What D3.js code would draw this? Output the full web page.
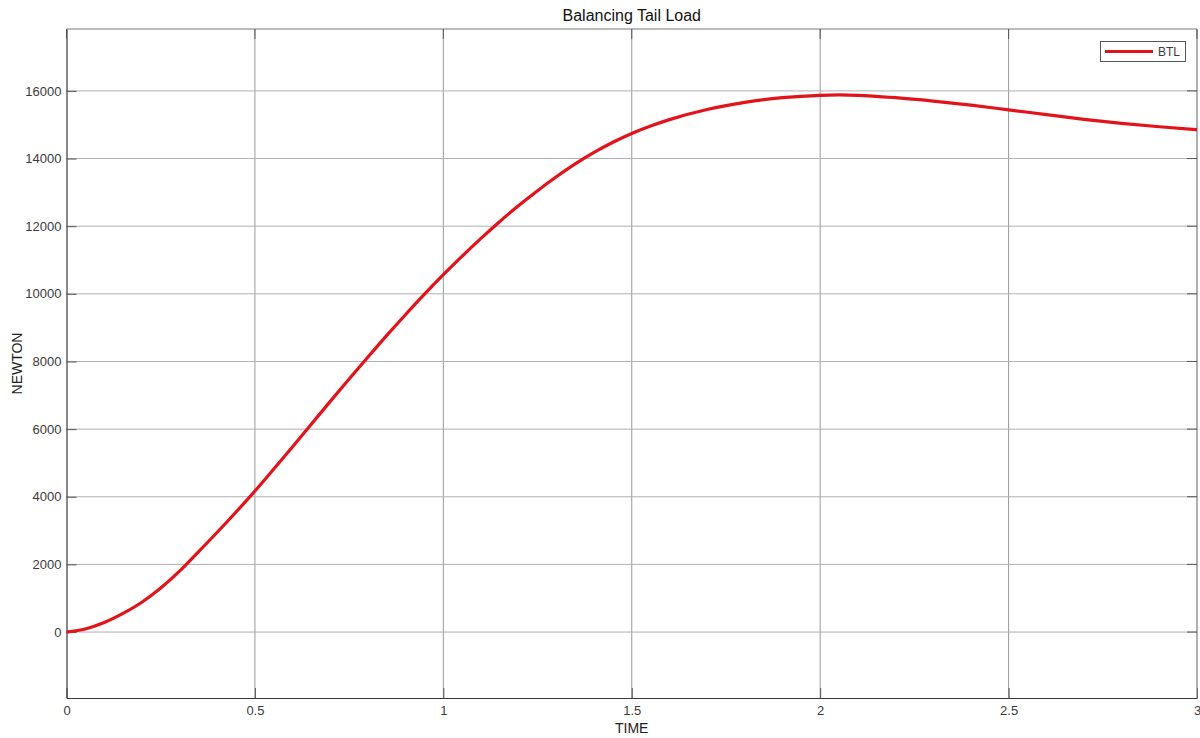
<!DOCTYPE html>
<html>
<head>
<meta charset="utf-8">
<script src="https://cdn.jsdelivr.net/npm/d3@7"></script>
<style>
  html, body { margin: 0; padding: 0; background: #fff; }
  svg { display: block; font-family: "Liberation Sans", Arial, sans-serif; }
</style>
</head>
<body>
<svg id="chart" width="1200" height="738"></svg>
<script>
// ---- data ----
const time = [0, 0.05, 0.1, 0.15, 0.2, 0.25, 0.3, 0.35, 0.4, 0.45, 0.5, 0.55, 0.6, 0.65, 0.7, 0.75,
  0.8, 0.85, 0.9, 0.95, 1.0, 1.05, 1.1, 1.15, 1.2, 1.25, 1.3, 1.35, 1.4, 1.45, 1.5, 1.55, 1.6,
  1.7, 1.8, 1.9, 2.0, 2.05, 2.1, 2.2, 2.3, 2.4, 2.5, 2.6, 2.7, 2.8, 2.9, 3.0];
const btl = [0, 90, 280, 550, 880, 1300, 1800, 2370, 2950, 3550, 4170, 4820, 5480, 6150, 6820, 7480,
  8130, 8770, 9390, 9990, 10565, 11115, 11640, 12140, 12610, 13050, 13460, 13840, 14180, 14480, 14740, 14960, 15150,
  15450, 15660, 15800, 15870, 15880, 15870, 15800, 15700, 15580, 15440, 15300, 15160, 15040, 14940, 14850];
const xTicks = [0, 0.5, 1, 1.5, 2, 2.5, 3];
const xTickLabels = ["0", "0.5", "1", "1.5", "2", "2.5", "3"];
const yTicks = [0, 2000, 4000, 6000, 8000, 10000, 12000, 14000, 16000];
const xDomain = [0, 3];
const yDomain = [-1950, 17830];
const titleText = "Balancing Tail Load";
const xLabel = "TIME";
const yLabel = "NEWTON";
const seriesName = "BTL";

// ---- layout ----
const svg = d3.select("#chart");
const L = 66.5, R = 1197, T = 29, B = 698;
const x = d3.scaleLinear().domain(xDomain).range([L, R]);
const y = d3.scaleLinear().domain(yDomain).range([B, T]);
const gridColor = "#b0b0b0";
const textColor = "#3a3a3a";

// grid
svg.append("g").selectAll("line").data(xTicks.slice(1, -1)).join("line")
  .attr("x1", d => x(d)).attr("x2", d => x(d)).attr("y1", T).attr("y2", B)
  .attr("stroke", "#9a9a9a").attr("stroke-width", 1);
svg.append("g").selectAll("line").data(yTicks).join("line")
  .attr("x1", L).attr("x2", R).attr("y1", d => y(d)).attr("y2", d => y(d))
  .attr("stroke", gridColor).attr("stroke-width", 1);

// axes (MATLAB-like: ticks inside)
const xAxis = d3.axisBottom(x).tickValues(xTicks).tickFormat((d, i) => xTickLabels[i])
  .tickSizeInner(-10).tickSizeOuter(0).tickPadding(14);
const yAxis = d3.axisLeft(y).tickValues(yTicks).tickFormat(d3.format("d"))
  .tickSizeInner(-10).tickSizeOuter(0).tickPadding(15);
const gx = svg.append("g").attr("transform", `translate(0,${B})`).call(xAxis);
const gy = svg.append("g").attr("transform", `translate(${L},0)`).call(yAxis);
[gx, gy].forEach(g => {
  g.select(".domain").attr("stroke", "#3a3a3a").attr("stroke-width", 1.2);
  g.selectAll(".tick line").attr("stroke", "#555");
  g.selectAll(".tick text").attr("fill", textColor).style("font-size", "13px")
    .style("font-family", '"Liberation Sans", Arial, sans-serif');
});
gy.selectAll(".tick text").attr("dx", "10px");
gx.selectAll(".tick text").attr("dy", "0.2em");

// top/right box + mirrored ticks
svg.append("line").attr("x1", L).attr("x2", R).attr("y1", T).attr("y2", T).attr("stroke", "#7a7a7a").attr("stroke-width", 1.2);
svg.append("line").attr("x1", R).attr("x2", R).attr("y1", T).attr("y2", B).attr("stroke", "#7a7a7a").attr("stroke-width", 1.2);
svg.append("g").selectAll("line").data(xTicks).join("line")
  .attr("x1", d => x(d)).attr("x2", d => x(d)).attr("y1", T).attr("y2", T + 10).attr("stroke", "#555");
svg.append("g").selectAll("line").data(yTicks).join("line")
  .attr("x1", R - 10).attr("x2", R).attr("y1", d => y(d)).attr("y2", d => y(d)).attr("stroke", "#555");

// line
const line = d3.line().x((d, i) => x(time[i])).y(d => y(d)).curve(d3.curveMonotoneX);
svg.append("path").datum(btl).attr("d", line)
  .attr("fill", "none").attr("stroke", "#e3131b").attr("stroke-width", 3.2)
  .attr("stroke-linejoin", "round");

// title & labels
svg.append("text").attr("x", (L + R) / 2).attr("y", 21).attr("text-anchor", "middle")
  .attr("fill", "#111").style("font-size", "16px").text(titleText);
svg.append("text").attr("x", (L + R) / 2).attr("y", 733).attr("text-anchor", "middle")
  .attr("fill", "#222").style("font-size", "14px").text(xLabel);
svg.append("text").attr("transform", `translate(22,${(T + B) / 2}) rotate(-90)`).attr("text-anchor", "middle")
  .attr("fill", "#222").style("font-size", "14px").text(yLabel);

// legend
const lg = svg.append("g");
lg.append("rect").attr("x", 1100.5).attr("y", 41.5).attr("width", 85).attr("height", 20)
  .attr("fill", "#fff").attr("stroke", "#555").attr("stroke-width", 1);
lg.append("line").attr("x1", 1105).attr("x2", 1153).attr("y1", 51.5).attr("y2", 51.5)
  .attr("stroke", "#e3131b").attr("stroke-width", 3.2);
lg.append("text").attr("x", 1158).attr("y", 55.5).attr("fill", textColor)
  .style("font-size", "12px").text(seriesName);
</script>
</body>
</html>
